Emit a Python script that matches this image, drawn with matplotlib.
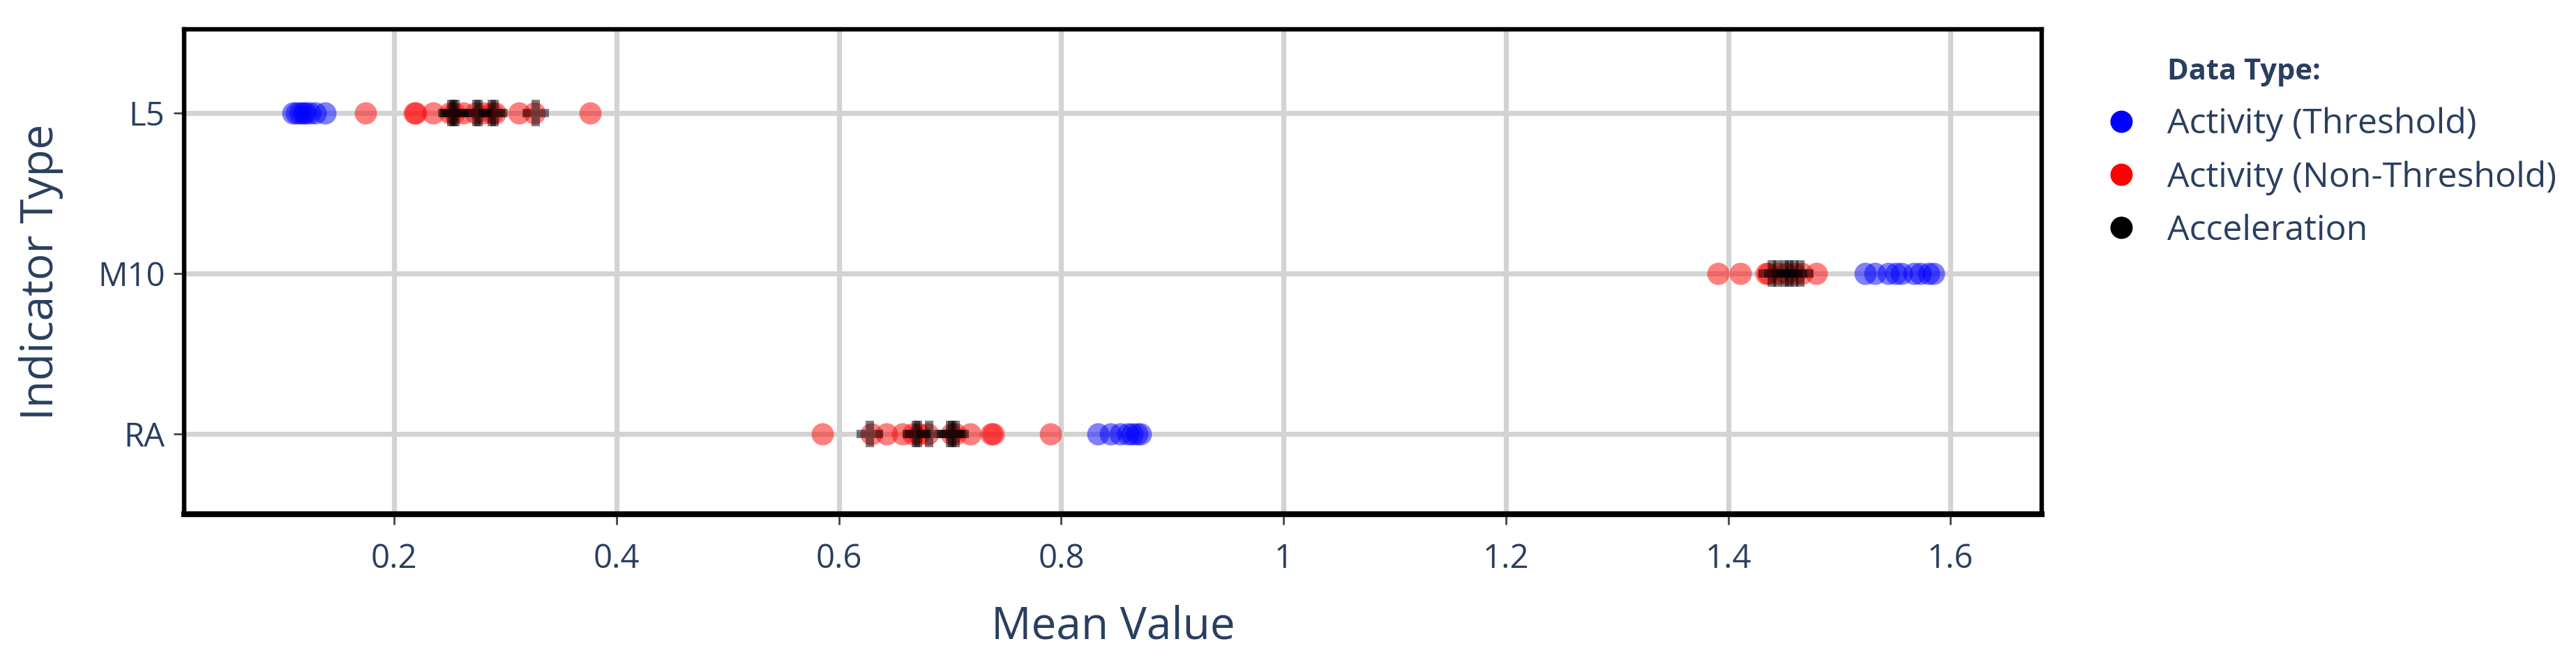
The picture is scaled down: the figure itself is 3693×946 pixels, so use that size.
import matplotlib
matplotlib.use("Agg")
import matplotlib.pyplot as plt
from matplotlib.lines import Line2D

# --- data
indicators = ["RA", "M10", "L5"]
series_names = ["Activity (Threshold)", "Activity (Non-Threshold)", "Acceleration"]

l5_threshold = [0.109, 0.112, 0.115, 0.118, 0.120, 0.124, 0.129, 0.138]
l5_non_threshold = [0.174, 0.218, 0.219, 0.235, 0.250, 0.254, 0.262, 0.273,
                    0.280, 0.288, 0.291, 0.312, 0.326, 0.376]
l5_accel = [0.251, 0.253, 0.255, 0.274, 0.276, 0.288, 0.290, 0.327]

m10_threshold = [1.523, 1.532, 1.544, 1.551, 1.556, 1.567, 1.573, 1.580, 1.585]
m10_non_threshold = [1.391, 1.411, 1.434, 1.436, 1.445, 1.452, 1.460, 1.466, 1.479]
m10_accel = [1.439, 1.444, 1.451, 1.455, 1.459, 1.465]

ra_threshold = [0.833, 0.844, 0.853, 0.860, 0.864, 0.868, 0.871]
ra_non_threshold = [0.585, 0.629, 0.643, 0.657, 0.667, 0.672, 0.680, 0.701,
                    0.705, 0.718, 0.737, 0.739, 0.790]
ra_accel = [0.628, 0.669, 0.671, 0.681, 0.700, 0.702, 0.705]

x_ticks = [0.2, 0.4, 0.6, 0.8, 1.0, 1.2, 1.4, 1.6]
x_tick_labels = ["0.2", "0.4", "0.6", "0.8", "1", "1.2", "1.4", "1.6"]

# --- style
TEXT = "#2a3f5f"
plt.rcParams["font.family"] = ["Open Sans", "DejaVu Sans"]

fig = plt.figure(figsize=(18.465, 4.73), dpi=200)
ax = fig.add_axes([0.0715, 0.2209, 0.7211, 0.7347])

data = {
    "L5": (l5_threshold, l5_non_threshold, l5_accel),
    "M10": (m10_threshold, m10_non_threshold, m10_accel),
    "RA": (ra_threshold, ra_non_threshold, ra_accel),
}
colors = ["#0000ff", "#ff0000", "#000000"]
markers = ["o", "o", "P"]
sizes = [132, 132, 187]

for k in range(3):
    for name in ["L5", "M10", "RA"]:
        vals = data[name][k]
        ax.scatter(vals, [indicators.index(name)] * len(vals), s=sizes[k],
                   marker=markers[k], color=colors[k], alpha=0.5,
                   linewidths=0, zorder=3 + k)

ax.set_xlim(0.011, 1.682)
ax.set_ylim(-0.5, 2.52)
ax.set_yticks(range(len(indicators)))
ax.set_yticklabels(indicators)
ax.set_xticks(x_ticks)
ax.set_xticklabels(x_tick_labels)

ax.grid(True, color="#d3d3d3", linewidth=2.6, zorder=0)
ax.set_axisbelow(True)
for sp in ax.spines.values():
    sp.set_color("black")
    sp.set_linewidth(2.3)
    sp.set_zorder(10)
ax.spines["bottom"].set_linewidth(3.0)

ax.tick_params(axis="both", colors="#444444", labelcolor=TEXT, labelsize=17,
               length=5.4, width=1.0)
ax.tick_params(axis="x", pad=9)
ax.tick_params(axis="y", pad=4.5)

ax.set_xlabel("Mean Value", fontsize=23, color=TEXT)
ax.xaxis.set_label_coords(0.5, -0.232)
ax.xaxis.label.set_verticalalignment("center")
ax.set_ylabel("Indicator Type", fontsize=23, color=TEXT)
ax.yaxis.set_label_coords(-0.077, 0.5)
ax.yaxis.label.set_verticalalignment("center")

# --- legend
handles = [Line2D([], [], linestyle="none", marker="o", markersize=11.5,
                  markerfacecolor=c, markeredgewidth=0) for c in colors]
fig.legend(handles, series_names, loc="upper left",
           bbox_to_anchor=(0.8183, 0.838), frameon=False, fontsize=18,
           labelcolor=TEXT, borderpad=0, borderaxespad=0,
           handlelength=0.76, handletextpad=0.94, labelspacing=0.53)
fig.text(0.8413, 1 - 114 / 946, "Data Type:", fontsize=15, fontweight="bold",
         color=TEXT, va="baseline", ha="left")

fig.savefig("out.png", dpi=200)
